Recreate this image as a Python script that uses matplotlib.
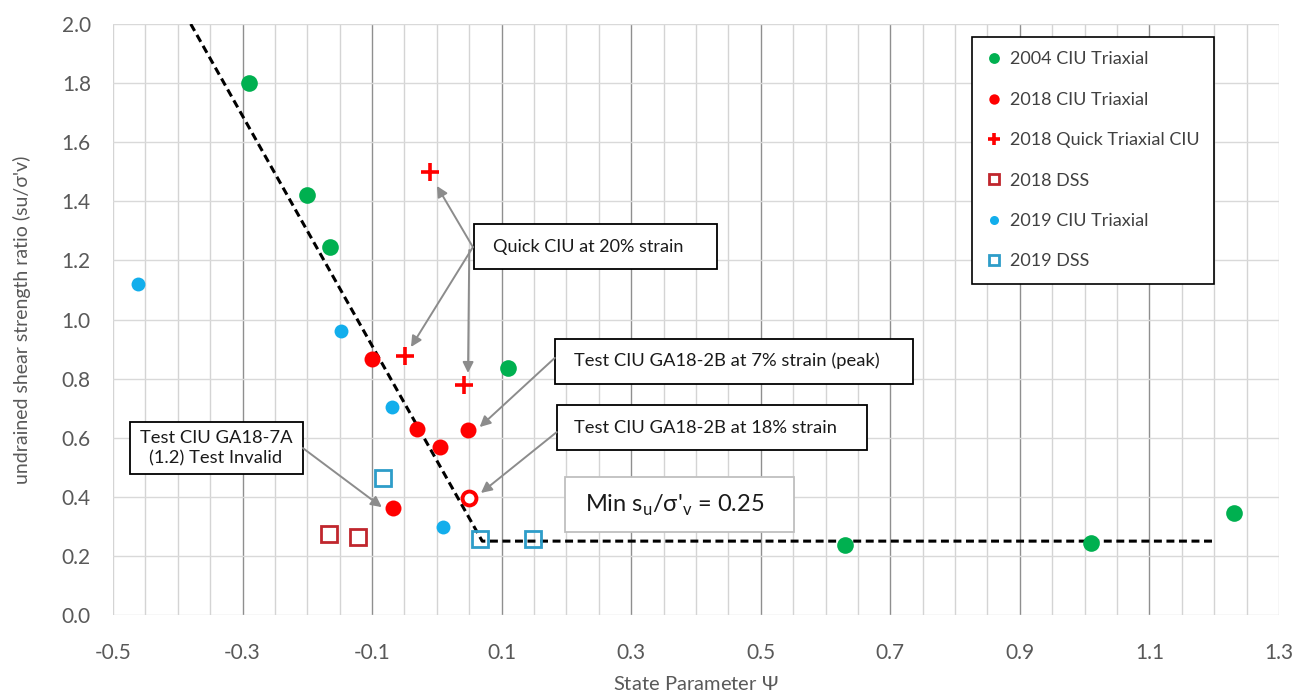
import numpy as np
import matplotlib.pyplot as plt
from matplotlib.patches import Rectangle

plt.rcParams['font.family'] = ['Lato', 'DejaVu Sans']
plt.rcParams['mathtext.fontset'] = 'custom'
plt.rcParams['mathtext.rm'] = 'Lato'
plt.rcParams['mathtext.it'] = 'DejaVu Sans:italic'
plt.rcParams['axes.unicode_minus'] = False

# Data (state parameter psi, su/sigma'v)
x_2004_ciu = [-0.29, -0.20, -0.165, 0.11, 0.63, 1.01, 1.23]
y_2004_ciu = [1.80, 1.42, 1.245, 0.835, 0.237, 0.243, 0.345]

x_2018_ciu = [-0.10, -0.031, 0.005, 0.048, -0.068]
y_2018_ciu = [0.866, 0.629, 0.569, 0.626, 0.362]

x_2018_18pct = [0.049]
y_2018_18pct = [0.396]

x_2018_quick = [-0.011, -0.049, 0.042]
y_2018_quick = [1.50, 0.877, 0.778]

x_2018_dss = [-0.167, -0.122]
y_2018_dss = [0.274, 0.264]

x_2019_ciu = [-0.461, -0.148, -0.069, 0.009]
y_2019_ciu = [1.12, 0.96, 0.704, 0.298]

x_2019_dss = [-0.083, 0.066, 0.148]
y_2019_dss = [0.464, 0.257, 0.257]

# lower bound line
x_bound = [-0.38, 0.07, 1.2]
y_bound = [2.0, 0.25, 0.25]

x_ticks = [-0.5, -0.3, -0.1, 0.1, 0.3, 0.5, 0.7, 0.9, 1.1, 1.3]
x_ticklabels = ['-0.5', '-0.3', '-0.1', '0.1', '0.3', '0.5', '0.7', '0.9', '1.1', '1.3']
y_ticks = [0.0, 0.2, 0.4, 0.6, 0.8, 1.0, 1.2, 1.4, 1.6, 1.8, 2.0]
y_ticklabels = ['0.0', '0.2', '0.4', '0.6', '0.8', '1.0', '1.2', '1.4', '1.6', '1.8', '2.0']

green = '#00B050'
red = '#FF0000'
darkred = '#C0262D'
blue = '#12AEEC'
blue_sq = '#2E9DC9'
arrow_c = '#8C8C8C'
txt_c = '#595959'

fig = plt.figure(figsize=(13.06, 6.91), dpi=100)
ax = fig.add_axes([113/1306, 1 - 615/691, (1279 - 113)/1306, (615 - 24)/691])

ax.plot(x_bound, y_bound, color='black', lw=2.2, linestyle=(0, (2.6, 1.5)), zorder=3)

ax.plot(x_2004_ciu, y_2004_ciu, 'o', color=green, ms=12, mec='none', label='2004 CIU Triaxial', zorder=5)
ax.plot(x_2018_ciu, y_2018_ciu, 'o', color=red, ms=11.5, mec='none', label='2018 CIU Triaxial', zorder=5)
ax.plot(x_2018_quick, y_2018_quick, '+', color=red, ms=13, mew=2.6, label='2018 Quick Triaxial CIU', zorder=5)
ax.plot(x_2018_dss, y_2018_dss, 's', mfc='none', mec=darkred, ms=11.5, mew=2.0, label='2018 DSS', zorder=5)
ax.plot(x_2019_ciu, y_2019_ciu, 'o', color=blue, ms=10, mec='none', label='2019 CIU Triaxial', zorder=5)
ax.plot(x_2019_dss, y_2019_dss, 's', mfc='none', mec=blue_sq, ms=11.5, mew=2.0, label='2019 DSS', zorder=5)
ax.plot(x_2018_18pct, y_2018_18pct, 'o', mfc='white', mec=red, ms=10, mew=2.8, zorder=5)

ax.set_xlim(-0.5, 1.3)
ax.set_ylim(0, 2.0)
ax.set_xticks(x_ticks)
ax.set_xticklabels(x_ticklabels)
ax.set_xticks(np.arange(-0.5, 1.31, 0.05), minor=True)
ax.set_yticks(y_ticks)
ax.set_yticklabels(y_ticklabels)
ax.tick_params(which='both', length=0, labelsize=15, labelcolor=txt_c)
ax.tick_params(axis='x', pad=20)
ax.tick_params(axis='y', pad=16)

ax.grid(which='minor', axis='x', color='#D4D4D4', lw=1)
ax.grid(which='major', axis='x', color='#8F8F8F', lw=1)
ax.grid(which='major', axis='y', color='#D9D9D9', lw=1)
xg = ax.get_xgridlines()
xg[0].set_color('#D4D4D4')
xg[-1].set_color('#D4D4D4')
ax.set_axisbelow(True)
for s in ax.spines.values():
    s.set_visible(False)

ax.set_xlabel(r"State Parameter $\mathit{Ψ}$", fontsize=14.5, color=txt_c, labelpad=9)
ax.set_ylabel("undrained shear strength ratio (su/σ'v)", fontsize=14, color=txt_c, labelpad=22)

# annotation boxes (x0, y0, x1, y1)
def box(x0, y0, x1, y1, ec='black'):
    ax.add_patch(Rectangle((x0, y0), x1 - x0, y1 - y0, facecolor='white',
                           edgecolor=ec, lw=1.3, zorder=4))

def arrow(tip, origin):
    ax.annotate('', xy=tip, xytext=origin, zorder=4,
                arrowprops=dict(arrowstyle='-|>', color=arrow_c, lw=1.4,
                                mutation_scale=16, shrinkA=0, shrinkB=0))

box(0.057, 1.171, 0.432, 1.323)
ax.text(0.086, 1.245, 'Quick CIU at 20% strain', fontsize=13, color='#1A1A1A', va='center', zorder=6)
arrow((0.0, 1.452), (0.0556, 1.245))
arrow((-0.040, 0.907), (0.0556, 1.245))
arrow((0.048, 0.819), (0.050, 1.235))

box(0.182, 0.782, 0.735, 0.934)
ax.text(0.211, 0.86, 'Test CIU GA18-2B at 7% strain (peak)', fontsize=13.2, color='#1A1A1A', va='center', zorder=6)
arrow((0.066, 0.636), (0.182, 0.870))

box(0.185, 0.558, 0.664, 0.711)
ax.text(0.211, 0.633, 'Test CIU GA18-2B at 18% strain', fontsize=13.2, color='#1A1A1A', va='center', zorder=6)
arrow((0.068, 0.413), (0.185, 0.619))

box(0.198, 0.281, 0.552, 0.467, ec='#BFBFBF')
ax.text(0.228, 0.372, r"Min s$_\mathregular{u}$/σ'$_\mathregular{v}$ = 0.25", fontsize=17, color='#1A1A1A', va='center', zorder=6)

box(-0.474, 0.477, -0.207, 0.653)
ax.text(-0.341, 0.565, 'Test CIU GA18-7A\n(1.2) Test Invalid', fontsize=13.2, color='#1A1A1A',
        va='center', ha='center', linespacing=1.35, zorder=6)
arrow((-0.085, 0.365), (-0.207, 0.565))

leg = ax.legend(loc='upper left', bbox_to_anchor=(0.737, 0.978), fontsize=13, markerscale=0.65,
                frameon=True, fancybox=False, edgecolor='black', framealpha=1,
                labelspacing=1.35, handlelength=0.8, handletextpad=0.5, borderpad=0.8,
                borderaxespad=0)
leg.get_frame().set_linewidth(1.2)
for t in leg.get_texts():
    t.set_color('#404040')

fig.savefig('out.png', dpi=100)
